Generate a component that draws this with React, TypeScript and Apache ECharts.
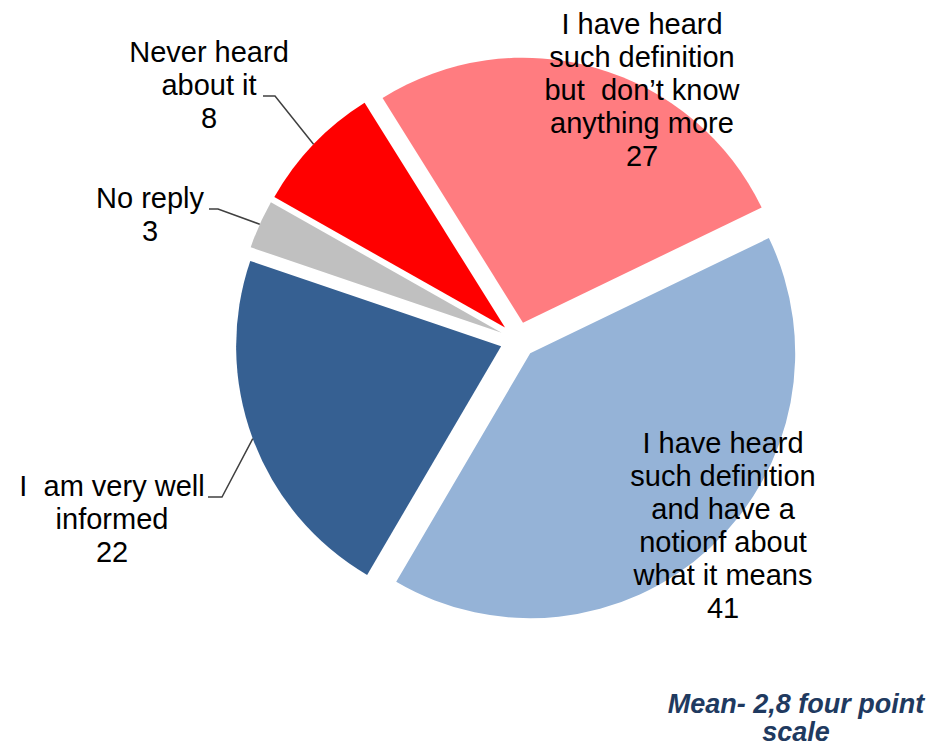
import React, { useEffect, useRef } from 'react';
import * as echarts from 'echarts';

// ---- data ----
const categories = [
  'I have heard\nsuch definition\nbut  don\u2019t know\nanything more',
  'I have heard\nsuch definition\nand have a\nnotionf about\nwhat it means',
  'I  am very well\ninformed',
  'No reply',
  'Never heard\nabout it',
];
const values = [27, 41, 22, 3, 8];
const colors = ['#FF7C80', '#95B3D7', '#366092', '#C0C0C0', '#FF0000'];
const note = 'Mean- 2,8 four point\nscale';

// ---- label layout (positions only) ----
const labelPos: { x: number; y: number; bend?: number[]; end?: number[] }[] = [
  { x: 642, y: 7 },
  { x: 723, y: 426 },
  { x: 112, y: 469, bend: [222, 497], end: [208, 497] },
  { x: 150, y: 181, bend: [218, 209], end: [209, 209] },
  { x: 209, y: 35, bend: [275, 96], end: [263, 96] },
];

const CENTER = [518, 340];
const RADIUS = 265;
const OFFSET = 18;
const START = 122;

export default function App() {
  const ref = useRef<HTMLDivElement>(null);
  useEffect(() => {
    if (!ref.current) return;
    const chart = echarts.init(ref.current, undefined, { renderer: 'svg' });
    const labelStyle = {
      color: '#000',
      fontFamily: '"Liberation Sans", Arial, sans-serif',
      fontSize: 29,
      lineHeight: 33,
      align: 'center',
    };
    chart.setOption({
      animation: false,
      backgroundColor: '#ffffff',
      series: [
        {
          type: 'pie',
          center: CENTER,
          radius: [0, RADIUS],
          startAngle: START,
          clockwise: true,
          selectedMode: 'multiple',
          selectedOffset: OFFSET,
          silent: true,
          emphasis: { disabled: true },
          select: { itemStyle: { borderWidth: 0 } },
          label: { show: false },
          labelLine: { show: false },
          data: values.map((v, i) => ({
            value: v,
            name: categories[i],
            selected: true,
            itemStyle: { color: colors[i] },
          })),
        },
        {
          type: 'pie',
          center: CENTER,
          radius: [0, RADIUS + OFFSET],
          startAngle: START,
          clockwise: true,
          silent: true,
          z: 5,
          avoidLabelOverlap: false,
          emphasis: { disabled: true },
          itemStyle: { color: 'rgba(0,0,0,0)' },
          data: values.map((v, i) => ({
            value: v,
            name: categories[i],
            labelLine: { show: !!labelPos[i].bend },
          })),
          label: {
            show: true,
            position: 'outside',
            formatter: (p: any) => p.name + '\n' + p.value,
            ...labelStyle,
          },
          labelLine: {
            show: true,
            length: 10,
            length2: 10,
            lineStyle: { color: '#404040', width: 1.5 },
          },
          labelLayout: (params: any) => {
            const lp = labelPos[params.dataIndex];
            const res: any = { x: lp.x, y: lp.y, align: 'center', verticalAlign: 'top' };
            if (lp.bend && params.labelLinePoints) {
              res.labelLinePoints = [params.labelLinePoints[0], lp.bend, lp.end];
            }
            return res;
          },
        },
      ],
      graphic: [
        {
          type: 'text',
          x: 796,
          y: 690,
          z: 10,
          style: {
            text: note,
            align: 'center',
            verticalAlign: 'top',
            fill: '#1F3A60',
            fontFamily: '"Liberation Sans", Arial, sans-serif',
            fontSize: 27,
            fontWeight: 'bold',
            fontStyle: 'italic',
            lineHeight: 28,
          },
        },
      ],
    });
    return () => chart.dispose();
  }, []);
  return (
    <div
      ref={ref}
      style={{ position: 'absolute', left: 0, top: 0, width: 934, height: 753, background: '#fff' }}
    />
  );
}
